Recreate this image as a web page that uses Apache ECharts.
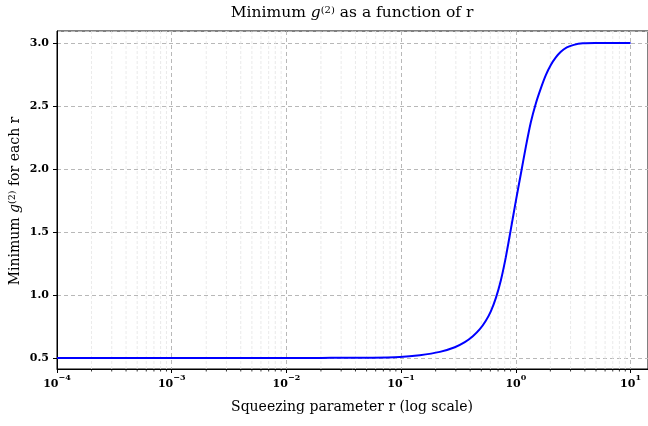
<!DOCTYPE html>
<html>
<head>
<meta charset="utf-8">
<script src="https://cdn.jsdelivr.net/npm/echarts@6/dist/echarts.min.js"></script>
<style>
html, body { margin: 0; padding: 0; background: #fff; }
#main { width: 648px; height: 426px; }
</style>
</head>
<body>
<div id="main"></div>
<script>
// squeezing parameter r
var rVals = [1e-4, 3e-4, 1e-3, 3e-3, 0.01, 0.02, 0.03, 0.05, 0.0974, 0.1455, 0.2175,
  0.2938, 0.3592, 0.4218, 0.4855, 0.5475, 0.6053, 0.6693, 0.74, 0.8182, 0.9045, 1.0,
  1.1056, 1.2223, 1.3513, 1.494, 1.6518, 1.8262, 2.0187, 2.2318, 2.4674, 2.784,
  3.2035, 3.8378, 4.884, 10];
// minimum g2 for each r
var g2Vals = [0.5, 0.5, 0.5, 0.5, 0.5, 0.5, 0.501, 0.502, 0.508, 0.522, 0.548,
  0.585, 0.625, 0.672, 0.728, 0.795, 0.87, 0.975, 1.115, 1.30, 1.52, 1.745,
  1.96, 2.175, 2.37, 2.52, 2.64, 2.745, 2.825, 2.885, 2.93, 2.965,
  2.985, 2.997, 3.0, 3.0];

var xMin = 1e-4, xMax = 14.2;
var yMin = 0.412, yMax = 3.095;
var fam = '"DejaVu Serif", serif';

// minor ticks 2..9 x 10^n
var minorTicks = [];
for (var e = -4; e <= 1; e++) {
  for (var k = 2; k <= 9; k++) {
    var v = k * Math.pow(10, e);
    if (v < xMax) minorTicks.push([v, yMin]);
  }
}

var lineData = [];
for (var i = 0; i < rVals.length; i++) {
  lineData.push([rVals[i], g2Vals[i]]);
}

var myChart = echarts.init(document.getElementById('main'));
var option = {
  backgroundColor: '#fff',
  animation: false,
  grid: {
    left: 57, top: 31, right: 0, bottom: 57,
    containLabel: false, outerBoundsMode: 'none',
    show: true, borderColor: '#000', borderWidth: 1, backgroundColor: 'transparent'
  },
  xAxis: {
    type: 'log', logBase: 10, min: xMin, max: xMax,
    axisLine: { show: true, lineStyle: { color: '#000', width: 1 } },
    axisTick: { show: true, length: 4, lineStyle: { color: '#000', width: 1 } },
    axisLabel: {
      color: '#000', fontFamily: fam, fontWeight: 'bold', fontSize: 11, margin: 5,
      showMaxLabel: false,
      formatter: function (v) {
        var ex = Math.log10(v);
        if (Math.abs(ex - Math.round(ex)) > 1e-6) return '';
        var s = String(Math.round(ex)).replace('-', '\u2212');
        return '{b|10}{s|' + s + '}';
      },
      rich: {
        b: { fontFamily: fam, fontWeight: 'bold', fontSize: 11, lineHeight: 16, verticalAlign: 'bottom', color: '#000' },
        s: { fontFamily: fam, fontWeight: 'bold', fontSize: 8, lineHeight: 11, verticalAlign: 'top', color: '#000' }
      }
    },
    splitLine: { show: true, lineStyle: { color: '#b8b8b8', type: [4, 3], width: 1 } }
  },
  yAxis: {
    type: 'value', min: yMin, max: yMax, splitNumber: 5,
    axisLine: { show: true, lineStyle: { color: '#000', width: 1 } },
    axisTick: { show: true, length: 4, lineStyle: { color: '#000', width: 1 } },
    axisLabel: {
      color: '#000', fontFamily: fam, fontWeight: 'bold', fontSize: 11, margin: 8,
      showMinLabel: false, showMaxLabel: false,
      formatter: function (v) {
        if (Math.abs(v * 2 - Math.round(v * 2)) > 1e-6) return '';
        return v.toFixed(1);
      }
    },
    splitLine: { show: true, lineStyle: { color: '#b8b8b8', type: [4, 3], width: 1 } }
  },
  graphic: [
    {
      type: 'text', x: 352, y: 13,
      style: {
        text: '{n|Minimum }{i|g}{s|(2)}{n| as a function of r}',
        align: 'center', verticalAlign: 'middle',
        rich: {
          n: { fontFamily: fam, fontSize: 15.5, lineHeight: 16, verticalAlign: 'bottom', fill: '#000' },
          i: { fontFamily: fam, fontSize: 15.5, lineHeight: 16, verticalAlign: 'bottom', fontStyle: 'italic', fill: '#000' },
          s: { fontFamily: fam, fontSize: 10, lineHeight: 10, verticalAlign: 'top', fill: '#000' }
        }
      }
    },
    {
      type: 'text', x: 352, y: 407,
      style: {
        text: 'Squeezing parameter r (log scale)',
        align: 'center', verticalAlign: 'middle',
        fontFamily: fam, fontSize: 14, fill: '#000'
      }
    },
    {
      type: 'text', x: 15, y: 201, rotation: Math.PI / 2,
      style: {
        text: '{n|Minimum }{i|g}{s|(2)}{n| for each r}',
        align: 'center', verticalAlign: 'middle',
        rich: {
          n: { fontFamily: fam, fontSize: 14, lineHeight: 15, verticalAlign: 'bottom', fill: '#000' },
          i: { fontFamily: fam, fontSize: 14, lineHeight: 15, verticalAlign: 'bottom', fontStyle: 'italic', fill: '#000' },
          s: { fontFamily: fam, fontSize: 9.5, lineHeight: 10, verticalAlign: 'top', fill: '#000' }
        }
      }
    }
  ],
  series: [
    {
      // minor grid lines and minor ticks
      type: 'custom',
      silent: true,
      clip: false,
      z: 1,
      data: minorTicks,
      renderItem: function (params, api) {
        var p = api.coord([api.value(0), yMin]);
        var cs = params.coordSys;
        return {
          type: 'group',
          children: [
            {
              type: 'line',
              shape: { x1: p[0], y1: cs.y, x2: p[0], y2: cs.y + cs.height },
              style: { stroke: '#e4e4e4', lineWidth: 0.8, lineDash: [3, 2] }
            },
            {
              type: 'line',
              shape: { x1: p[0], y1: cs.y + cs.height, x2: p[0], y2: cs.y + cs.height + 2.5 },
              style: { stroke: '#000', lineWidth: 0.8 }
            }
          ]
        };
      }
    },
    {
      type: 'line',
      data: lineData,
      z: 3,
      symbol: 'none',
      smooth: 0.2,
      lineStyle: { color: '#0000ff', width: 2 }
    }
  ]
};
myChart.setOption(option);
</script>
</body>
</html>
